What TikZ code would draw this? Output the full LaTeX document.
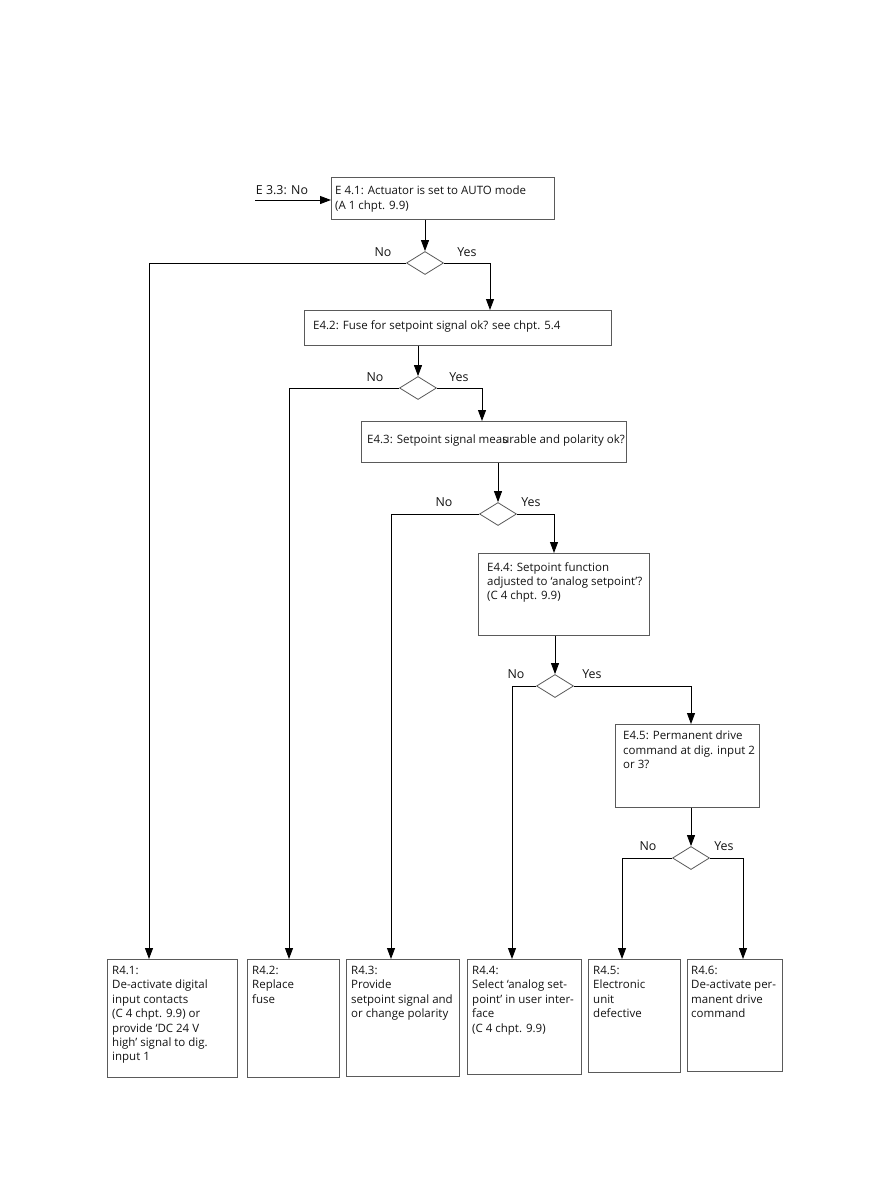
\documentclass[tikz,border=0pt]{standalone}
\usepackage{fontspec}
\setmainfont{Open Sans}
\usetikzlibrary{arrows.meta,shapes.geometric,calc}
\definecolor{boxgray}{HTML}{5A5A5A}
\definecolor{textc}{HTML}{141414}
\begin{document}
\begin{tikzpicture}[x=1pt,y=-1pt,
 box/.style={draw=boxgray, line width=0.9pt, anchor=north west, inner sep=0pt, rectangle},
 txt/.style={anchor=north west, inner sep=0pt, align=left, font=\fontsize{11.5}{14.4}\selectfont, text=textc},
 lbl/.style={inner sep=0pt, font=\fontsize{12.4}{14}\selectfont, text=textc},
 dia/.style={diamond, draw=boxgray, line width=0.8pt, inner sep=0pt, minimum width=37pt, minimum height=23pt},
 arr/.style={draw=black, line width=0.9pt, -{Triangle[length=11pt,width=8pt]}}]
\useasboundingbox[fill=white] (0,0) rectangle (893,1186);

% boxes
\node[box, minimum width=223pt, minimum height=42pt] (e41) at (331,177) {};
\node[box, minimum width=307pt, minimum height=35pt] (e42) at (304,310) {};
\node[box, minimum width=265pt, minimum height=41pt] (e43) at (361,421) {};
\node[box, minimum width=171pt, minimum height=82pt] (e44) at (478,553) {};
\node[box, minimum width=144pt, minimum height=83pt] (e45) at (615,724) {};
\node[box, minimum width=130pt, minimum height=118pt] (r41) at (107,959) {};
\node[box, minimum width=92pt, minimum height=118pt] (r42) at (247,959) {};
\node[box, minimum width=113pt, minimum height=117pt] (r43) at (346,959) {};
\node[box, minimum width=114pt, minimum height=115pt] (r44) at (467,959) {};
\node[box, minimum width=92pt, minimum height=113pt] (r45) at (588,959) {};
\node[box, minimum width=95pt, minimum height=112pt] (r46) at (687,959) {};

% texts
\node[txt] (t41) at (335,186) {E 4.1: Actuator is set to AUTO mode\\(A 1 chpt. 9.9)};
\node[txt] (t42) at (313,320.5) {E4.2: Fuse for setpoint signal ok? see chpt. 5.4};
\node[txt] (t43) at (367,434.5) {E4.3: Setpoint signal mea\rlap{s}urable and polarity ok?};
\node[txt] (t44) at (487,562) {E4.4: Setpoint function\\adjusted to ‘analog setpoint’?\\(C 4 chpt. 9.9)};
\node[txt] (t45) at (623,731) {E4.5: Permanent drive\\command at dig. input 2\\or 3?};
\node[txt] (tr41) at (112,966) {R4.1:\\De-activate digital\\input contacts\\(C 4 chpt. 9.9) or\\provide ‘DC 24 V\\high’ signal to dig.\\input 1};
\node[txt] (tr42) at (252,966) {R4.2:\\Replace\\fuse};
\node[txt] (tr43) at (351,966) {R4.3:\\Provide\\setpoint signal and\\or change polarity};
\node[txt] (tr44) at (472,966) {R4.4:\\Select ‘analog set-\\point’ in user inter-\\face\\(C 4 chpt. 9.9)};
\node[txt] (tr45) at (593,966) {R4.5:\\Electronic\\unit\\defective};
\node[txt] (tr46) at (691,966) {R4.6:\\De-activate per-\\manent drive\\command};

% diamonds
\node[dia] (d1) at (425,263) {};
\node[dia] (d2) at (418,388) {};
\node[dia] (d3) at (498,514) {};
\node[dia] (d4) at (555,686) {};
\node[dia] (d5) at (691,858) {};

% labels
\node[lbl] (lstart) at (282,190) {E 3.3: No};
\node[lbl] (n1) at (383,252) {No};
\node[lbl] (y1) at (467,252) {Yes};
\node[lbl] (n2) at (375,377) {No};
\node[lbl] (y2) at (459,377) {Yes};
\node[lbl] (n3) at (444,502) {No};
\node[lbl] (y3) at (531,502) {Yes};
\node[lbl] (n4) at (516,674) {No};
\node[lbl] (y4) at (592,674) {Yes};
\node[lbl] (n5) at (648,846) {No};
\node[lbl] (y5) at (724,846) {Yes};

% entry points
\coordinate (start) at (255,200);
\coordinate (in41) at (149,959);
\coordinate (in42) at (289,959);
\coordinate (in43) at (391,959);
\coordinate (in44) at (512,959);
\coordinate (in45) at (622,959);
\coordinate (in46) at (743,959);
\coordinate (ine42) at (490,310);
\coordinate (ine43) at (482,421);
\coordinate (ine44) at (554,553);
\coordinate (ine45) at (691,724);

% connectors
\draw[arr] (start) -- (start -| e41.west);
\draw[arr] (d1.north |- e41.south) -- (d1.north);
\draw[arr] (d1.west) -| (in41);
\draw[arr] (d1.east) -| (ine42);
\draw[arr] (d2.north |- e42.south) -- (d2.north);
\draw[arr] (d2.west) -| (in42);
\draw[arr] (d2.east) -| (ine43);
\draw[arr] (d3.north |- e43.south) -- (d3.north);
\draw[arr] (d3.west) -| (in43);
\draw[arr] (d3.east) -| (ine44);
\draw[arr] (d4.north |- e44.south) -- (d4.north);
\draw[arr] (d4.west) -| (in44);
\draw[arr] (d4.east) -| (ine45);
\draw[arr] (d5.north |- e45.south) -- (d5.north);
\draw[arr] (d5.west) -| (in45);
\draw[arr] (d5.east) -| (in46);
\end{tikzpicture}
\end{document}
